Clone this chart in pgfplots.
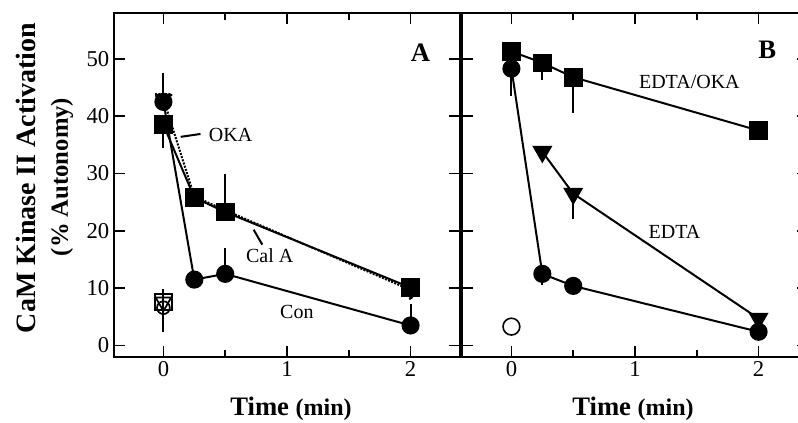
\documentclass[border=0pt]{standalone}
\usepackage{pgfplots}
\pgfplotsset{compat=1.18}
\usepackage{fontspec}
\setmainfont{Liberation Serif}
\tikzset{lab/.style={font=\fontsize{15}{15}\selectfont}}
\begin{document}
\begin{tikzpicture}[x=0.75pt,y=0.75pt]
\useasboundingbox (0,0) rectangle (798,423);
\pgfplotsset{
  panel/.style={
    anchor=south west, scale only axis,
    width=259.5pt, height=258pt,
    xmin=-0.4, xmax=2.4, ymin=-2, ymax=58,
    xtick={0,1,2}, minor xtick={0.5,1.5},
    ytick={0,10,...,50},
    tick align=inside,
    major tick length=8pt, minor tick length=5pt,
    tick style={line width=1.2pt, black},
    axis line style={line width=2.2pt},
    every tick label/.append style={font=\fontsize{17}{17}\selectfont},
    /pgf/number format/assume math mode=true,
    clip=false,
  },
  ser/.style={black, line width=1.5pt, mark options={solid, fill=black, line width=1pt},
    error bars/y dir=both, error bars/y explicit, error bars/error mark=none,
    error bars/error bar style={line width=1.5pt, solid}},
}
% ---------------- Panel A ----------------
\begin{axis}[panel, at={(85.5pt,49.5pt)}]
% open symbols at time 0 (drawn first)
\addplot+[ser, only marks, mark=square, mark size=6.2pt, mark options={fill=white, line width=1.4pt}] coordinates {
 (0,7.6) += (0,2.2) -= (0,5.3)
};
\addplot+[ser, only marks, mark=triangle, mark size=6.8pt, mark options={rotate=180, fill=none, line width=1.3pt}] coordinates {
 (0,7.6) += (0,0) -= (0,0)
};
\addplot+[ser, only marks, mark=o, mark size=4.8pt, mark options={fill=none, line width=1.3pt}] coordinates {
 (0,6.6) += (0,0) -= (0,0)
};
% Con (filled circles)
\addplot+[ser, solid, mark=*, mark size=6.3pt] coordinates {
 (0,42.5) += (0,5) -= (0,0)
 (0.25,11.5) += (0,0) -= (0,0)
 (0.5,12.5) += (0,4.5) -= (0,0)
 (2,3.5) += (0,3.7) -= (0,0)
};
% Cal A (filled inverted triangles, dotted)
\addplot+[ser, densely dotted, mark=triangle*, mark size=7.2pt, mark options={rotate=180}] coordinates {
 (0,43) += (0,0) -= (0,0)
 (0.25,26) += (0,0) -= (0,0)
 (0.5,23.6) += (0,0) -= (0,0)
 (2,9.7) += (0,0) -= (0,0)
};
% OKA (filled squares)
\addplot+[ser, solid, mark=square*, mark size=6.5pt] coordinates {
 (0,38.5) += (0,0) -= (0,4)
 (0.25,25.8) += (0,0) -= (0,1.5)
 (0.5,23.3) += (0,6.7) -= (0,0)
 (2,10.1) += (0,0) -= (0,0)
};
\node[lab, anchor=west] at (axis cs:0.33,36.8) {OKA};
\draw[line width=1.5pt] (axis cs:0.14,36.4) -- (axis cs:0.30,36.9);
\node[lab] at (axis cs:0.86,15.6) {Cal A};
\draw[line width=1.5pt] (axis cs:0.73,20.2) -- (axis cs:0.80,17.6);
\node[lab] at (axis cs:1.08,5.8) {Con};
\node[font=\bfseries\fontsize{20}{20}\selectfont] at (axis cs:2.08,51) {A};
\end{axis}
% ---------------- Panel B ----------------
\begin{axis}[panel, at={(346.5pt,49.5pt)}, yticklabels={}]
% Con circles
\addplot+[ser, solid, mark=*, mark size=6.3pt] coordinates {
 (0,48.3) += (0,0) -= (0,4.7)
 (0.25,12.5) += (0,0) -= (0,2)
 (0.5,10.4) += (0,0) -= (0,0)
 (2,2.4) += (0,0) -= (0,0)
};
% EDTA triangles
\addplot+[ser, solid, mark=triangle*, mark size=7.2pt, mark options={rotate=180}] coordinates {
 (0.25,33.8) += (0,0) -= (0,0)
 (0.5,26.5) += (0,0) -= (0,4.5)
 (2,4.7) += (0,0) -= (0,0)
};
% EDTA/OKA squares
\addplot+[ser, solid, mark=square*, mark size=6.5pt] coordinates {
 (0,51.3) += (0,1.5) -= (0,0)
 (0.25,49.3) += (0,0) -= (0,3)
 (0.5,46.8) += (0,0) -= (0,6.2)
 (2,37.5) += (0,0) -= (0,0)
};
\addplot+[ser, only marks, mark=o, mark size=6.3pt, mark options={fill=none, line width=1.2pt}] coordinates {
 (0,3.3) += (0,0) -= (0,0)
};
\node[lab] at (axis cs:1.44,46) {EDTA/OKA};
\node[lab] at (axis cs:1.32,19.9) {EDTA};
\node[font=\bfseries\fontsize{20}{20}\selectfont] at (axis cs:2.07,51.5) {B};
\end{axis}
% ---------------- Outer labels ----------------
\node[rotate=90, font=\bfseries\fontsize{21}{21}\selectfont] at (26,245) {CaM Kinase II Activation};
\node[rotate=90, font=\bfseries\fontsize{18.5}{18.5}\selectfont] at (62,246) {(\% Autonomy)};
\node at (291,14) {\bfseries\fontsize{20}{20}\selectfont Time \fontsize{18}{18}\selectfont(min)};
\node at (633,14) {\bfseries\fontsize{20}{20}\selectfont Time \fontsize{18}{18}\selectfont(min)};
\end{tikzpicture}
\end{document}
